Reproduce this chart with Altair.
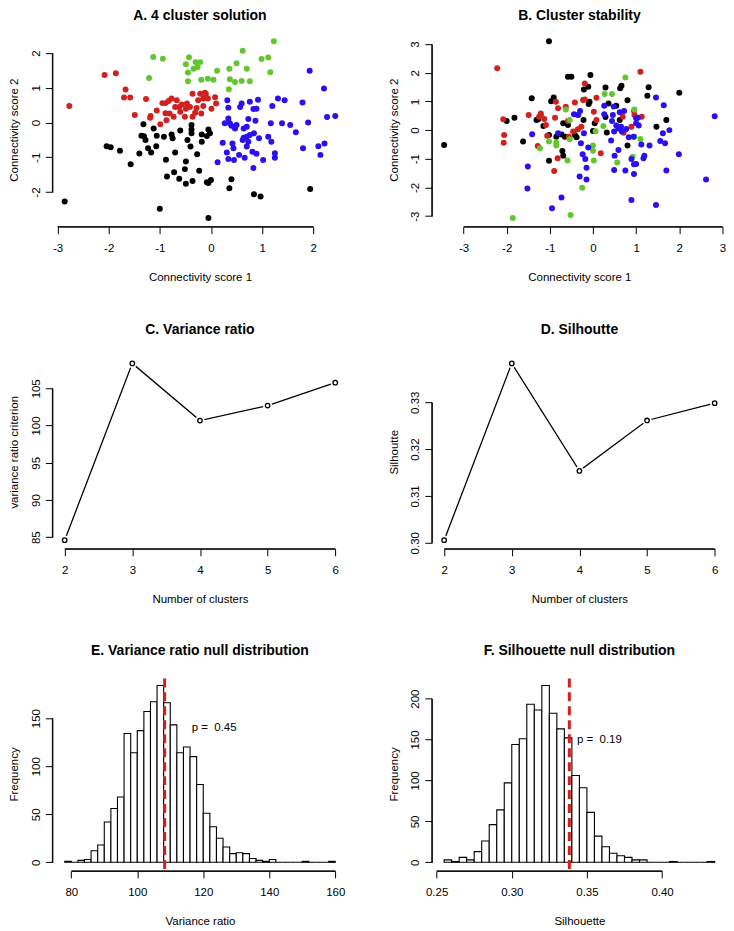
import altair as alt
import pandas as pd

FONT = "Liberation Sans"
W = 293
H = 191.5
FS = 11.5
AX_OFF = 1.5
CL_NAMES = ["black", "red", "green", "blue"]
CL_COLORS = ["#000000", "#D0211F", "#63C62E", "#2A10EE"]

# ---------------- Panel A: 4 cluster solution ----------------
A_black_x = [-2.86, -2.04, -1.96, -1.78, -1.57, -1.40, -1.36, -1.32, -1.31, -1.28, -1.23, -1.17, -1.12, -1.07, -1.06,
             -1.00, -0.92, -0.88, -0.86, -0.38, -0.38, -0.38, -0.60, -0.77, -0.75, -0.18, -0.05, -0.02, -0.08, -0.18,
             -0.40, -0.46, -0.27, -0.49, -0.51, -0.23, -0.72, -0.62, -0.49, -0.36, -0.08, 0.00, -0.05, 0.40, 0.36,
             0.84, 0.97, 1.94, -0.05, -0.70]
A_black_y = [-2.27, -0.68, -0.71, -0.81, -1.20, -0.89, -0.38, -0.05, -0.39, -0.50, -0.74, -0.86, -0.17, -0.68, -0.38,
             -2.48, -0.41, -1.07, -1.55, -0.07, -0.20, -0.31, -0.23, -0.34, -0.45, -0.34, -0.20, -0.31, -0.39, -0.55,
             -0.69, -0.50, -0.91, -1.12, -1.34, -1.39, -1.43, -1.62, -1.76, -1.68, -1.72, -1.65, -1.74, -1.63, -1.89,
             -2.06, -2.13, -1.91, -2.75, -0.86]
A_red_x = [-2.77, -2.08, -1.86, -1.67, -1.70, -1.58, -1.49, -1.27, -1.19, -1.18, -1.06, -0.99, -0.95, -0.89, -0.89,
           -0.87, -0.83, -0.77, -0.70, -0.81, -0.73, -0.62, -0.60, -0.49, -0.51, -0.41, -0.36, -0.36, -0.28, -0.25,
           -0.19, -0.15, -0.15, -0.10, -0.06, 0.01, 0.08, 0.10, -0.21, -0.67, -0.57, -0.47, -0.12, -0.31]
A_red_y = [0.48, 1.37, 1.42, 0.95, 0.72, 0.72, 0.22, 0.68, 0.14, 0.19, 0.35, -0.05, 0.56, 0.56, 0.27,
           0.07, 0.62, 0.69, 0.45, 0.26, 0.17, 0.45, 0.31, 0.40, 0.17, 0.45, 0.83, 0.17, 0.42, 0.64,
           0.26, 0.48, 0.69, 0.83, 0.69, 0.40, 0.73, 0.55, 0.83, 0.64, 0.52, 0.55, 0.86, 0.28]
A_green_x = [-1.13, -0.94, -1.21, -0.43, -0.49, -0.30, -0.21, -0.34, -0.26, -0.45, -0.45, -0.19, -0.06, 0.05, 0.12,
             0.62, 0.50, 0.36, 0.70, 0.37, 0.47, 0.35, 0.60, 0.76, 0.99, 1.12, 1.23, 1.16]
A_green_y = [1.89, 1.84, 1.28, 1.88, 1.68, 1.74, 1.74, 1.55, 1.60, 1.44, 1.19, 1.23, 1.26, 1.23, 1.49,
             2.07, 1.71, 1.55, 1.55, 1.25, 1.17, 0.96, 1.20, 1.19, 1.83, 1.87, 2.34, 1.45]
A_blue_x = [0.32, 0.34, 0.57, 0.60, 0.76, 0.89, 0.92, 0.83, 1.31, 1.44, 1.20, 1.79, 1.93, 2.21, 2.27,
            2.43, 1.90, 1.39, 1.55, 1.17, 1.66, 0.34, 0.27, 0.37, 0.40, 0.50, 0.47, 0.64, 0.70, 0.73,
            0.87, 0.64, 0.70, 0.76, 0.84, 0.73, 0.62, 0.70, 0.81, 0.89, 0.94, 1.12, 1.18, 1.25, 1.25,
            1.02, 0.83, 0.66, 0.55, 0.45, 0.34, 0.31, 0.42, 0.44, 0.23, 0.13, 1.80, 2.10, 2.22, 2.14]
A_blue_y = [0.64, 0.43, 0.45, 0.55, 0.60, 0.40, 0.66, 0.39, 0.69, 0.64, 0.48, 0.58, 1.49, 0.98, 0.16,
            0.19, 0.00, -0.02, -0.07, -0.02, -0.28, 0.12, -0.02, -0.02, -0.09, -0.07, -0.17, -0.17, -0.12, 0.10,
            0.05, -0.44, -0.41, -0.36, -0.31, -0.55, -0.50, -0.69, -0.84, -0.90, -0.45, -0.41, -0.55, -0.88, -1.01,
            -1.08, -1.31, -1.01, -0.93, -1.08, -1.05, -0.86, -0.60, -0.74, -0.58, -1.14, -0.74, -0.68, -0.60, -0.93]

# ---------------- Panel B: cluster stability ----------------
B_black_x = [-3.45, -1.42, -1.82, -2.00, -1.62, -1.02, -0.58, -0.50, -0.06, -0.21, -0.11, -0.08, -0.10, 0.29, 0.66,
             0.63, 1.29, 1.26, 2.00, -0.91, -0.97, 0.36, 0.54, 0.80, -1.27, -1.15, -1.31, -1.02, -0.85, -0.73,
             -0.65, -0.58, -0.69, -0.42, -0.38, -0.22, 0.04, 0.00, 0.32, 0.29, 0.62, -0.71, -0.69, -1.02, 0.80,
             1.47, 1.70]
B_black_y = [-0.52, 1.11, 0.43, 0.32, -0.40, 3.10, 1.86, 1.86, 1.92, 1.42, 1.51, 0.99, 0.91, 1.49, 1.55,
             1.46, 1.50, 1.20, 1.30, 1.14, 1.01, 0.93, 0.85, 1.04, 0.38, 0.14, 0.35, -0.17, -0.23, -0.15,
             -0.23, 0.18, 0.24, -0.17, -0.25, 0.35, 0.24, -0.03, -0.08, 0.46, 0.35, -0.73, -0.89, -1.07, -0.54,
             0.12, 0.35]
B_red_x = [-2.22, -2.08, -2.06, -2.07, -1.49, -1.28, 1.10, -0.19, -0.23, -0.19, 0.08, -0.42, -0.86, -0.63, -0.81,
           -1.21, -1.25, -1.13, -1.21, -0.88, -0.58, -1.09, -0.35, -0.46, -0.27, 0.02, 0.08, 0.69, 0.95, 0.96,
           1.13, 0.89, 0.71, -0.82, -0.90, 0.18, -0.56, -1.06]
B_red_y = [2.16, 0.38, -0.17, -0.44, 0.53, -0.55, 2.04, 1.63, 1.05, 1.07, 1.13, 0.96, 0.99, 0.82, 0.76,
           0.53, 0.47, 0.39, 0.58, 0.43, 0.32, 0.18, 0.03, -0.05, 0.12, 0.64, 0.35, 0.47, 0.67, 0.53,
           0.47, 0.12, -0.09, -0.98, -1.43, -0.81, -0.23, -0.20]
B_green_x = [-1.86, 0.75, 0.27, 0.44, -0.63, -0.33, -0.54, 0.96, 0.96, 1.10, 0.24, 0.06, -1.02, -1.23, -0.85,
             -0.85, -0.54, 0.00, 0.00, 0.02, -0.59, 0.92, 0.56, -0.25, -0.52]
B_green_y = [-3.07, 1.84, 1.26, 1.26, 0.72, 0.53, 0.35, 0.72, -0.23, -0.31, 0.14, -0.04, -0.40, -0.63, -0.43,
             -0.54, -0.32, -0.54, -0.72, -1.06, -1.06, -0.93, -1.13, -2.01, -2.96]
B_blue_x = [-1.41, -1.51, -1.52, 1.46, 1.64, 0.26, 0.48, 0.26, 0.46, 0.62, 0.72, 1.04, 1.00, 1.06, -0.30,
            -0.35, -0.44, 0.44, 0.54, 0.59, 0.65, 0.49, 0.67, 0.77, 1.00, -0.81, -0.21, -0.28, -0.11, 0.42,
            0.83, 0.94, 1.12, 1.31, 1.56, 1.67, 1.62, 1.77, -0.24, -0.18, -0.15, -0.31, -0.15, 0.50, 0.59,
            0.49, 0.75, 0.89, 0.95, 1.00, 0.95, 1.19, 1.17, 1.70, 1.99, 2.62, 2.82, -0.73, -0.95, 0.89, 1.46]
B_blue_y = [-0.14, -1.27, -2.04, 1.14, 0.87, 0.85, 0.82, 0.55, 0.53, 0.62, 0.67, 0.43, 0.24, 0.16, 0.67,
            0.53, 0.55, 0.32, 0.16, 0.06, 0.12, -0.05, -0.05, 0.04, 0.41, -0.11, -0.11, -0.46, -0.61, -0.36,
            -0.25, -0.23, -0.50, -0.54, -0.38, -0.46, -0.11, 0.00, -0.84, -1.01, -1.31, -1.62, -1.72, -0.89, -0.69,
            -1.39, -1.41, -1.01, -1.19, -1.18, -1.53, -0.89, -0.98, -1.41, -0.84, -1.72, 0.48, -2.35, -2.73, -2.44, -2.61]

# ---------------- Panels C and D ----------------
k_clusters = [2, 3, 4, 5, 6]
C_variance_ratio = [84.6, 108.35, 100.67, 102.68, 105.76]
D_silhouette = [0.30055, 0.3383, 0.31535, 0.32611, 0.3298]

# ---------------- Panels E and F (null distributions) ----------------
E_break_start = 78
E_bin_width = 2
E_counts = [1, 0, 2, 3, 12, 18, 42, 56, 68, 134, 114, 137, 157, 167, 184, 166, 143, 114, 120, 110, 81,
            51, 37, 25, 16, 9, 10, 9, 4, 2, 1, 3, 0, 0, 0, 0, 1, 0, 0, 0, 1]
E_observed = 108.3
E_p_label = "p = \u00a00.45"

F_break_start = 0.255
F_bin_width = 0.005
F_counts = [3, 1, 6, 3, 13, 26, 46, 64, 97, 144, 151, 193, 186, 216, 182, 163, 152, 106, 91, 61, 32,
            19, 11, 8, 6, 3, 3, 0, 0, 0, 1, 0, 0, 0, 0, 1]
F_observed = 0.3383
F_p_label = "p = \u00a00.19"


def rlim(lo, hi):
    d = (hi - lo) * 0.04
    return [lo - d, hi + d]


def span_dash(ticks, dom, length):
    # dash pattern so that the axis line only runs between the first and last tick (R style)
    k = length / (dom[1] - dom[0])
    gap = (ticks[0] - dom[0]) * k
    run = (ticks[-1] - ticks[0]) * k
    return [0.01, round(gap, 2), round(run, 2), 3000]


def xaxis(values, dom, title, fmt=None, expr=None, title_y=52):
    kw = dict(values=values, title=title, offset=AX_OFF, domain=True, domainColor="black", domainWidth=1,
              domainDash=span_dash(values, dom, W), grid=False, ticks=True, tickSize=7, tickWidth=1,
              tickColor="black", labelPadding=9, labelFont=FONT, labelFontSize=FS, labelColor="black",
              labelFlush=False, labelOverlap=False, labelAngle=0, titleFont=FONT, titleFontSize=FS,
              titleFontWeight="normal", titleColor="black", titleX=W / 2, titleY=title_y - AX_OFF,
              titleAlign="center", titleBaseline="middle", titleAngle=0, zindex=2)
    if fmt:
        kw["format"] = fmt
    if expr:
        kw["labelExpr"] = expr
    return alt.Axis(**kw)


def yaxis(values, dom, title, fmt=None, expr=None):
    kw = dict(values=values, title=title, offset=AX_OFF, domain=True, domainColor="black", domainWidth=1,
              domainDash=span_dash(values, dom, H), grid=False, ticks=True, tickSize=7, tickWidth=1,
              tickColor="black", labelPadding=4, labelFont=FONT, labelFontSize=FS, labelColor="black",
              labelFlush=False, labelOverlap=False, labelAngle=270, labelAlign="center",
              labelBaseline="bottom", titleFont=FONT, titleFontSize=FS, titleFontWeight="normal",
              titleColor="black", titleX=-39 + AX_OFF, titleY=H / 2, titleAlign="center",
              titleBaseline="middle", titleAngle=270, zindex=2)
    if fmt:
        kw["format"] = fmt
    if expr:
        kw["labelExpr"] = expr
    return alt.Axis(**kw)


def ptitle(text, off):
    return alt.TitleParams(text=text, font=FONT, fontSize=14, fontWeight="bold", color="black",
                           anchor="middle", frame="group", baseline="alphabetic", offset=off)


def axis_lines(xt, yt, xs, ys, ax, ay):
    # backup R-style axis lines, from first to last tick, just outside the plot edge
    xl = alt.Chart(pd.DataFrame({"xa": [xt[0]], "xb": [xt[-1]]})).mark_rule(
        color="black", strokeWidth=1).encode(
        x=alt.X("xa:Q", scale=xs, axis=ax), x2="xb:Q", y=alt.value(H + AX_OFF))
    yl = alt.Chart(pd.DataFrame({"ya": [yt[0]], "yb": [yt[-1]]})).mark_rule(
        color="black", strokeWidth=1).encode(
        y=alt.Y("ya:Q", scale=ys, axis=ay), y2="yb:Q", x=alt.value(-AX_OFF))
    return [xl, yl]


INT_EXPR = "toString(datum.value)"


def scatter(groups, xt, yt, title, off):
    rows = []
    for name, xs_, ys_ in groups:
        for a, b in zip(xs_, ys_):
            rows.append({"x": a, "y": b, "cl": name})
    df = pd.DataFrame(rows)
    xd = rlim(df["x"].min(), df["x"].max())
    yd = rlim(df["y"].min(), df["y"].max())
    xs = alt.Scale(domain=xd, nice=False, zero=False)
    ys = alt.Scale(domain=yd, nice=False, zero=False)
    ax = xaxis(xt, xd, "Connectivity score 1", expr=INT_EXPR)
    ay = yaxis(yt, yd, "Connectivity score 2", expr=INT_EXPR)
    pts = alt.Chart(df).mark_circle(size=36, opacity=1).encode(
        x=alt.X("x:Q", scale=xs, axis=ax),
        y=alt.Y("y:Q", scale=ys, axis=ay),
        color=alt.Color("cl:N", scale=alt.Scale(domain=CL_NAMES, range=CL_COLORS), legend=None),
    )
    return alt.layer(pts, *axis_lines(xt, yt, xs, ys, ax, ay)).properties(
        width=W, height=H, title=ptitle(title, off))


def lineplot(vals, yt, ytitle, fmt, title, off):
    df = pd.DataFrame({"k": k_clusters, "v": vals})
    xd = rlim(min(k_clusters), max(k_clusters))
    yd = rlim(min(vals), max(vals))
    xs = alt.Scale(domain=xd, nice=False, zero=False)
    ys = alt.Scale(domain=yd, nice=False, zero=False)
    ax = xaxis(k_clusters, xd, "Number of clusters")
    ay = yaxis(yt, yd, ytitle, fmt=fmt)
    base = alt.Chart(df)
    x = alt.X("k:Q", scale=xs, axis=ax)
    y = alt.Y("v:Q", scale=ys, axis=ay)
    line = base.mark_line(color="black", strokeWidth=1.3).encode(x=x, y=y)
    halo = base.mark_point(shape="circle", filled=True, fill="white", strokeWidth=0, size=85,
                           opacity=1).encode(x=x, y=y)
    pts = base.mark_point(shape="circle", filled=True, fill="white", stroke="black", strokeWidth=1.3,
                          size=20, opacity=1).encode(x=x, y=y)
    return alt.layer(line, halo, pts, *axis_lines(k_clusters, yt, xs, ys, ax, ay)).properties(
        width=W, height=H, title=ptitle(title, off))


def histplot(start, width, counts, obs, plabel, pdx, py, xt, yt, xtitle, xfmt, title, off):
    lo = [start + i * width for i in range(len(counts))]
    hi = [v + width for v in lo]
    df = pd.DataFrame({"lo": lo, "hi": hi, "n": counts})
    xd = rlim(lo[0], hi[-1])
    yd = rlim(0, max(counts))
    xs = alt.Scale(domain=xd, nice=False, zero=False)
    ys = alt.Scale(domain=yd, nice=False, zero=False)
    ax = xaxis(xt, xd, xtitle, fmt=xfmt)
    ay = yaxis(yt, yd, "Frequency")
    bars = alt.Chart(df).mark_rect(fill="white", stroke="black", strokeWidth=1.1).encode(
        x=alt.X("lo:Q", scale=xs, axis=ax),
        x2="hi:Q",
        y=alt.Y("n:Q", scale=ys, axis=ay),
        y2=alt.Y2Datum(0),
    )
    ob = alt.Chart(pd.DataFrame({"obs": [obs]})).mark_rule(
        color=CL_COLORS[1], strokeWidth=3, strokeDash=[9, 5]).encode(x=alt.X("obs:Q", scale=xs, axis=ax))
    txt = alt.Chart(pd.DataFrame({"px": [obs + pdx], "py": [py], "t": [plabel]})).mark_text(
        font=FONT, fontSize=FS, color="black", align="center", baseline="middle").encode(
        x=alt.X("px:Q", scale=xs, axis=ax), y=alt.Y("py:Q", scale=ys, axis=ay), text="t:N")
    return alt.layer(bars, ob, txt, *axis_lines(xt, yt, xs, ys, ax, ay)).properties(
        width=W, height=H, title=ptitle(title, off))


TOP_OFF = 0.1
OFF = 8

pA = scatter([("black", A_black_x, A_black_y), ("red", A_red_x, A_red_y),
              ("green", A_green_x, A_green_y), ("blue", A_blue_x, A_blue_y)],
             [-3, -2, -1, 0, 1, 2], [-2, -1, 0, 1, 2], "A. 4 cluster solution", TOP_OFF)
pB = scatter([("black", B_black_x, B_black_y), ("red", B_red_x, B_red_y),
              ("green", B_green_x, B_green_y), ("blue", B_blue_x, B_blue_y)],
             [-3, -2, -1, 0, 1, 2, 3], [-3, -2, -1, 0, 1, 2, 3], "B. Cluster stability", TOP_OFF)
pC = lineplot(C_variance_ratio, [85, 90, 95, 100, 105], "variance ratio criterion", None,
              "C. Variance ratio", OFF)
pD = lineplot(D_silhouette, [0.30, 0.31, 0.32, 0.33], "Silhoutte", ".2f", "D. Silhoutte", OFF)
pE = histplot(E_break_start, E_bin_width, E_counts, E_observed, E_p_label, 15, 140,
              [80, 100, 120, 140, 160], [0, 50, 100, 150], "Variance ratio", None,
              "E. Variance ratio null distribution", OFF)
pF = histplot(F_break_start, F_bin_width, F_counts, F_observed, F_p_label, 0.02, 150,
              [0.25, 0.30, 0.35, 0.40], [0, 50, 100, 150, 200], "Silhouette", ".2f",
              "F. Silhouette null distribution", OFF)

chart = alt.concat(pA, pB, pC, pD, pE, pF, columns=2,
                   spacing=alt.RowColnumber(row=131, column=87.5), bounds="flush").properties(
    padding={"top": -1, "left": 1, "right": 0, "bottom": 0}, background="white"
).configure_view(stroke=None)

chart.save("out.html", embed_options={"renderer": "svg", "actions": False})
